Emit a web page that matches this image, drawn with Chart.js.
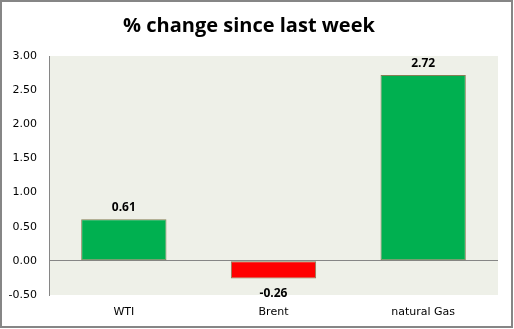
<!DOCTYPE html>
<html lang="en">
<head>
    <meta charset="UTF-8">
    <title>% change since last week</title>
    <script src="https://cdn.jsdelivr.net/npm/chart.js"></script>
</head>
<style>
    html, body {
        margin: 0;
        padding: 0;
        background-color: #FFFFFF;
    }
    #box {
        width: 514px;
        height: 329px;
    }
</style>
<body>
    <div id="box"><canvas id="myChartCanvas"></canvas></div>
</body>
</html>

<script>
    // dados do grafico
    const categorias = ['WTI', 'Brent', 'natural Gas'];
    const valores = [0.61, -0.26, 2.72];
    const coresBarras = ['#00B050', '#FF0000', '#00B050'];
    const tickValores = [-0.5, 0, 0.5, 1, 1.5, 2, 2.5, 3];

    // fundo cinza da area do grafico + moldura externa
    const fundoPlugin = {
        id: 'fundo',
        beforeDraw(chart) {
            const { ctx, chartArea } = chart;
            ctx.save();
            ctx.fillStyle = '#EEF0E8';
            ctx.fillRect(chartArea.left, chartArea.top, chartArea.right - chartArea.left, chartArea.bottom - chartArea.top);
            ctx.restore();
        },
        afterDraw(chart) {
            const ctx = chart.ctx;
            ctx.save();
            ctx.strokeStyle = '#868686';
            ctx.lineWidth = 2;
            ctx.strokeRect(1, 1, chart.width - 3, chart.height - 3);
            ctx.restore();
        }
    };

    // rotulos de valor em cima/baixo das barras
    const rotulosPlugin = {
        id: 'rotulos',
        afterDatasetsDraw(chart) {
            const ctx = chart.ctx;
            const meta = chart.getDatasetMeta(0);
            ctx.save();
            ctx.font = 'bold 12px "Open Sans", sans-serif';
            ctx.fillStyle = '#000000';
            ctx.textAlign = 'center';
            ctx.textBaseline = 'middle';
            meta.data.forEach(function (bar, i) {
                const v = valores[i];
                const y = v >= 0 ? bar.y - 12 : bar.y + 15;
                ctx.fillText(v.toFixed(2), bar.x, y);
            });
            ctx.restore();
        }
    };

    const config = {
        type: 'bar',
        data: {
            labels: categorias,
            datasets: [{
                data: valores,
                backgroundColor: coresBarras,
                borderColor: '#857F55',
                borderWidth: 1,
                borderSkipped: false,
                barPercentage: 0.57,
                categoryPercentage: 1
            }]
        },
        options: {
            responsive: true,
            maintainAspectRatio: false,
            animation: false,
            layout: { padding: { left: 0, right: 16, top: 0, bottom: 0 } },
            plugins: {
                legend: { display: false },
                tooltip: { enabled: false },
                title: {
                    display: true,
                    text: '% change since last week',
                    color: '#000000',
                    font: { family: '"Open Sans", sans-serif', size: 20, weight: 'bold', lineHeight: 1.2 },
                    padding: { top: 14, bottom: 18 }
                }
            },
            scales: {
                x: {
                    grid: { display: false, drawTicks: false },
                    border: { display: false },
                    ticks: {
                        color: '#000000',
                        font: { family: '"DejaVu Sans", sans-serif', size: 11 },
                        padding: 11
                    },
                    afterFit(scale) { scale.height = 34; }
                },
                y: {
                    min: -0.5,
                    max: 3,
                    afterBuildTicks(scale) {
                        scale.ticks = tickValores.map(v => ({ value: v }));
                    },
                    grid: {
                        drawTicks: false,
                        lineWidth: 1,
                        color: ctx => (ctx.tick && ctx.tick.value === 0 ? '#868686' : 'rgba(0,0,0,0)')
                    },
                    border: { display: true, color: '#868686', width: 1 },
                    ticks: {
                        color: '#000000',
                        font: { family: '"DejaVu Sans", sans-serif', size: 11 },
                        padding: 12,
                        callback: v => Number(v).toFixed(2)
                    },
                    afterFit(scale) { scale.width = 49; }
                }
            }
        },
        plugins: [fundoPlugin, rotulosPlugin]
    };

    let myChart = new Chart(document.getElementById('myChartCanvas'), config);
</script>
